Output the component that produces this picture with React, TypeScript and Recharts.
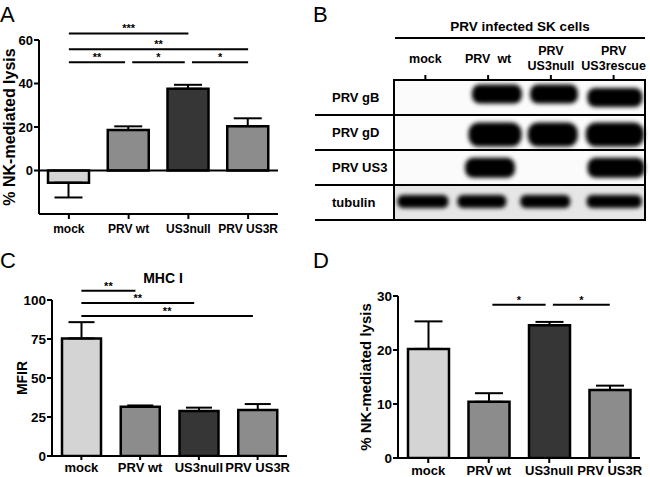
import React from "react";
import {
  BarChart, Bar, XAxis, YAxis, ErrorBar, ReferenceLine, Cell,
  ScatterChart, Scatter, ReferenceArea,
} from "recharts";

const FONT = '"Liberation Sans", Arial, Helvetica, sans-serif';

// bar panels A, C, D
const groups = ["mock", "PRV wt", "US3null", "PRV US3R"];
const lysisA = [-5.6, 18.6, 37.6, 20.4];
const lysisAErr = [6.8, 1.7, 1.8, 3.6];
const mfir = [75.4, 31.6, 28.8, 29.5];
const mfirErr = [10.4, 0.8, 2.2, 3.8];
const lysisD = [20.2, 10.4, 24.6, 12.6];
const lysisDErr = [5.1, 1.6, 0.6, 0.8];

// significance: [group from, group to, height (data units), stars]
const sigA = [[0, 2, 63, "***"], [0, 3, 55.7, "**"], [0, 1, 49.8, "**"], [1, 2, 49.8, "*"], [2, 3, 49.8, "*"]];
const sigC = [[0, 1, 106, "**"], [0, 2, 98, "**"], [0, 3, 89.7, "**"]];
const sigD = [[1, 2, 28.4, "*"], [2, 3, 28.4, "*"]];

// western blot (panel B)
const lanes = ["mock", "PRV  wt", "PRV\nUS3null", "PRV\nUS3rescue"];
const blotRows = ["PRV gB", "PRV gD", "PRV US3", "tubulin"];
// band: [lane position, row position, relative signal]
const gBBands = [[1.64, 0.4, 0.96], [2.55, 0.4, 0.92], [3.52, 0.5, 1.06]];
const gDBands = [[1.61, 1.56, 1.02], [2.53, 1.56, 0.96], [3.52, 1.56, 1.12]];
const us3Bands = [[1.53, 2.51, 0.96], [3.54, 2.51, 1.1]];
const tubulinBands = [[0.46, 3.47, 0.98], [1.4, 3.47, 0.94], [2.41, 3.47, 0.96], [3.51, 3.47, 1.06]];

const FILLS = ["#d4d4d4", "#8c8c8c", "#363636", "#8c8c8c"];
const BAND_H = [19, 24, 20, 13];
const ROW_BG = ["#fbfbfb", "#fbfbfb", "#fbfbfb", "#e6e6e6"];

function brackets(sig, gap, trim) {
  return sig.map(([a, b, y, stars], k) => {
    const shared = sig.some((o, j) => j !== k && o[2] === y && o[0] === b);
    const x1 = a > 0 ? a + gap : a;
    const x2 = shared ? b - gap : b - trim;
    return { x1, x2, y, stars };
  });
}

function BarPanel(p) {
  const data = groups.map((g, i) => ({
    name: g,
    i,
    v: p.values[i],
    err: p.values[i] < 0 ? [p.errors[i], 0] : [0, p.errors[i]],
  }));
  const plotW = p.w - p.margin.left - p.margin.right - p.yWidth;
  const half = plotW / groups.length / 2;
  const tickStyle = { fill: "#000", fontWeight: 700, fontFamily: FONT };
  return (
    <BarChart width={p.w} height={p.h} data={data} margin={p.margin}>
      <XAxis dataKey="name" height={p.xHeight} interval={0}
        tick={{ ...tickStyle, fontSize: p.xFont }}
        axisLine={{ stroke: "#000", strokeWidth: 2 }}
        tickLine={{ stroke: "#000", strokeWidth: 2 }} tickSize={p.tickLen} tickMargin={p.xGap} />
      <XAxis xAxisId="n" dataKey="i" type="number" domain={[0, groups.length - 1]}
        padding={{ left: half, right: half }} hide allowDataOverflow />
      <YAxis domain={p.domain} ticks={p.ticks} width={p.yWidth} interval={0} allowDataOverflow
        tick={{ ...tickStyle, fontSize: p.yFont }}
        axisLine={{ stroke: "#000", strokeWidth: 2 }}
        tickLine={{ stroke: "#000", strokeWidth: 2 }} tickSize={5} tickMargin={1}
        label={{
          value: p.yLabel, angle: -90, position: "insideLeft", offset: p.yLabelOffset,
          style: { textAnchor: "middle", fontSize: p.yLabelSize, fontWeight: 700, fill: "#000", fontFamily: FONT },
        }} />
      <Bar dataKey="v" barSize={p.barSize} stroke="#000" strokeWidth={2.5} isAnimationActive={false}>
        {data.map((d, i) => <Cell key={d.name} fill={FILLS[i]} />)}
        <ErrorBar dataKey="err" width={p.cap} stroke="#000" strokeWidth={2} direction="y" />
      </Bar>
      {p.zeroLine && <ReferenceLine y={0} stroke="#000" strokeWidth={2} />}
      {brackets(p.sig, 0.06, p.trim || 0).map((b, i) => (
        <ReferenceLine key={i} xAxisId="n" ifOverflow="visible"
          segment={[{ x: b.x1, y: b.y }, { x: b.x2, y: b.y }]}
          stroke="#000" strokeWidth={2}
          label={{ value: b.stars, position: "top", offset: 1, fontSize: 11, fontWeight: 700, fill: "#000", fontFamily: FONT }} />
      ))}
    </BarChart>
  );
}

const LaneTick = ({ x, y, payload }) => {
  const lines = lanes[Math.floor(payload.value)].split("\n");
  const mid = y - 15;
  return (
    <text x={x} textAnchor="middle" fontSize={12.5} fontWeight={700} fontFamily={FONT} fill="#000">
      {lines.map((l, k) => (
        <tspan key={k} x={x} y={mid + 4.5 + (k - (lines.length - 1) / 2) * 15} style={{ whiteSpace: "pre" }}>{l}</tspan>
      ))}
    </text>
  );
};

const RowTick = ({ x, y, payload }) => (
  <text x={x + 19} y={y - 17.5} dy={4.5} textAnchor="start" fontSize={13} fontWeight={700} fontFamily={FONT} fill="#000">
    {blotRows[payload.value - 1]}
  </text>
);

const Band = (p) => {
  const s = p.payload.s;
  const h = BAND_H[p.payload.row];
  const w = 52 * s;
  return <rect x={p.cx - w / 2} y={p.cy - h / 2} width={w} height={h} rx={h / 2.4} fill="#050505" filter="url(#blotBlur)" />;
};

function BlotPanel() {
  const bands = [gBBands, gDBands, us3Bands, tubulinBands].flatMap((row, r) =>
    row.map(([x, y, s]) => ({ x, y, s, row: r }))
  );
  return (
    <ScatterChart width={338} height={240} margin={{ top: 40, right: 5, bottom: 20, left: 0 }}>
      <defs>
        <filter id="blotBlur" x="-20%" y="-60%" width="140%" height="220%">
          <feGaussianBlur stdDeviation="2" />
        </filter>
      </defs>
      <XAxis type="number" dataKey="x" domain={[0, 4]} orientation="top" height={40}
        ticks={[0.5, 1.5, 2.5, 3.5]} interval={0} tick={<LaneTick />} axisLine={false}
        tickLine={{ stroke: "#000", strokeWidth: 2 }} tickSize={5} />
      <YAxis type="number" dataKey="y" domain={[0, 4]} reversed width={82}
        ticks={[1, 2, 3, 4]} interval={0} tick={<RowTick />} axisLine={false}
        tickLine={{ stroke: "#000", strokeWidth: 2 }} tickSize={79} />
      {blotRows.map((r, i) => (
        <ReferenceArea key={r} x1={0} x2={4} y1={i} y2={i + 1} fill={ROW_BG[i]} fillOpacity={1}
          stroke="#000" strokeWidth={2} ifOverflow="visible" />
      ))}
      <Scatter data={bands} shape={Band} isAnimationActive={false} />
    </ScatterChart>
  );
}

const abs = (left, top, extra = {}) => ({ position: "absolute", left, top, ...extra });
const letter = { fontSize: 22, lineHeight: "22px", fontFamily: FONT, color: "#000" };

export default function App() {
  return (
    <div style={{ position: "absolute", left: 0, top: 0, width: 650, height: 477, background: "#fff", fontFamily: FONT, overflow: "hidden" }}>
      <div style={abs(0, 0)}>
        <BarPanel values={lysisA} errors={lysisAErr} domain={[-20, 60]} ticks={[0, 20, 40, 60]}
          sig={sigA} w={325} h={240} margin={{ top: 40, right: 47, bottom: 0, left: 0 }}
          yWidth={39} xHeight={26} xFont={12} yFont={13} tickLen={5} xGap={5}
          yLabel="% NK-mediated lysis" yLabelSize={16} yLabelOffset={9.5}
          barSize={41} cap={14} zeroLine />
      </div>
      <div style={abs(312, 0)}>
        <BlotPanel />
      </div>
      <div style={abs(0, 240)}>
        <BarPanel values={mfir} errors={mfirErr} domain={[0, 100]} ticks={[0, 25, 50, 75, 100]}
          sig={sigC} trim={0.08} w={325} h={237} margin={{ top: 60, right: 38, bottom: 0, left: 0 }}
          yWidth={52} xHeight={21} xFont={13} yFont={13.5} tickLen={4} xGap={3}
          yLabel="MFIR" yLabelSize={14} yLabelOffset={22.5}
          barSize={39} cap={13} />
      </div>
      <div style={abs(325, 240)}>
        <BarPanel values={lysisD} errors={lysisDErr} domain={[0, 30]} ticks={[0, 10, 20, 30]}
          sig={sigD} w={325} h={237} margin={{ top: 56, right: 10, bottom: 0, left: 0 }}
          yWidth={73} xHeight={19} xFont={13} yFont={13.5} tickLen={5} xGap={3}
          yLabel="% NK-mediated lysis" yLabelSize={15} yLabelOffset={41}
          barSize={41} cap={14} />
      </div>

      <div style={abs(0, 4, letter)}>A</div>
      <div style={abs(313, 4, letter)}>B</div>
      <div style={abs(0, 250, letter)}>C</div>
      <div style={abs(313, 250, letter)}>D</div>

      <div style={abs(395, 17, { width: 250, height: 20, lineHeight: "20px", textAlign: "center", fontSize: 13.5, fontWeight: 700, borderBottom: "2px solid #000" })}>
        PRV infected SK cells
      </div>
      <div style={abs(113, 271, { width: 100, lineHeight: 1, textAlign: "center", fontSize: 14, fontWeight: 700 })}>
        MHC I
      </div>
    </div>
  );
}
